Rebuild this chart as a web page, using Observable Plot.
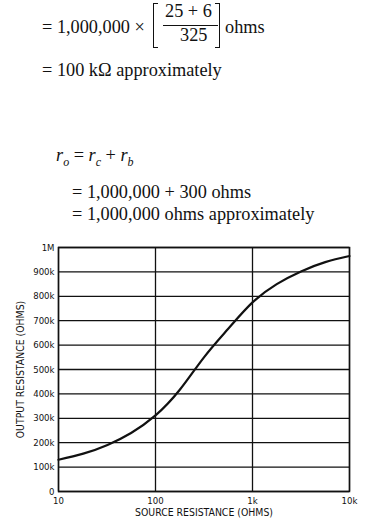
<!DOCTYPE html>
<html>
<head>
<meta charset="utf-8">
<script src="https://cdn.jsdelivr.net/npm/d3@7"></script>
<script src="https://cdn.jsdelivr.net/npm/@observablehq/plot@0.6"></script>
<style>
  html, body { margin: 0; padding: 0; background: #fff; }
  #page { position: relative; width: 372px; height: 529px; overflow: hidden; background: #fff;
          font-family: "Liberation Serif", "DejaVu Serif", serif; color: #111; }
  .eq { position: absolute; font-size: 18.3px; line-height: 18px; white-space: nowrap; }
  .it { font-style: italic; }
  .br { position: absolute; border: 1.3px solid #111; width: 4px; }
  #chart { position: absolute; left: 0; top: 230px; }
</style>
</head>
<body>
<div id="page">
  <div class="eq" style="left:42px; top:18px;">= 1,000,000 ×</div>
  <div class="br" style="left:153px; top:3px; height:43px; border-right:none;"></div>
  <div class="eq" style="left:165px; top:2px;">25 + 6</div>
  <div style="position:absolute; left:163px; top:25px; width:55px; border-top:1.2px solid #111;"></div>
  <div class="eq" style="left:180px; top:26px;">325</div>
  <div class="br" style="left:215px; top:3px; height:43px; border-left:none;"></div>
  <div class="eq" style="left:225px; top:18px;">ohms</div>
  <div class="eq" style="left:42px; top:61px;">= 100 kΩ approximately</div>

  <div class="eq" style="left:56px; top:146px;"><span class="it">r<sub style="font-size:12px">o</sub></span> = <span class="it">r<sub style="font-size:12px">c</sub></span> + <span class="it">r<sub style="font-size:12px">b</sub></span></div>
  <div class="eq" style="left:72px; top:183px;">= 1,000,000 + 300 ohms</div>
  <div class="eq" style="left:72px; top:205px;">= 1,000,000 ohms approximately</div>

  <div id="chart"></div>
</div>
<script>
// Source resistance (ohms) and output resistance (ohms)
const sourceOhms = [10, 18, 32, 56, 100, 178, 316, 562, 1000, 1778, 3162, 5623, 10000];
const outputOhms = [130000, 155000, 191000, 240000, 312000, 417000, 550000, 667000, 775000, 850000, 902000, 940000, 965000];

const xTicks = [10, 100, 1000, 10000];
const xTickLabels = ["10", "100", "1k", "10k"];
const yTicks = [0, 100000, 200000, 300000, 400000, 500000, 600000, 700000, 800000, 900000, 1000000];
const yTickLabels = ["0", "100k", "200k", "300k", "400k", "500k", "600k", "700k", "800k", "900k", "1M"];

const xLabel = "SOURCE RESISTANCE (OHMS)";
const yLabel = "OUTPUT RESISTANCE (OHMS)";

const data = sourceOhms.map((s, i) => ({s, r: outputOhms[i]}));

const chart = Plot.plot({
  width: 372,
  height: 299,
  marginTop: 17,
  marginBottom: 38,
  marginLeft: 58,
  marginRight: 23,
  style: {background: "#fff", color: "#111", fontFamily: "'DejaVu Sans Condensed', 'DejaVu Sans', sans-serif", fontSize: "9.5px", overflow: "visible"},
  x: {type: "log", domain: [10, 10000], ticks: xTicks, tickFormat: d => xTickLabels[xTicks.indexOf(d)], tickSize: 0, tickPadding: 6, label: null},
  y: {domain: [0, 1000000], ticks: yTicks, tickFormat: d => yTickLabels[yTicks.indexOf(d)], tickSize: 0, tickPadding: 4, label: null},
  marks: [
    Plot.ruleY(yTicks, {stroke: "#111", strokeWidth: 1.3}),
    Plot.ruleX(xTicks, {stroke: "#111", strokeWidth: 1.3}),
    Plot.frame({stroke: "#111", strokeWidth: 1.5}),
    Plot.line(data, {x: "s", y: "r", curve: "natural", stroke: "#111", strokeWidth: 2.2}),
    Plot.axisX({ticks: xTicks, tickFormat: d => xTickLabels[xTicks.indexOf(d)], tickSize: 0, tickPadding: 6, label: null}),
    Plot.axisY({ticks: yTicks, tickFormat: d => yTickLabels[yTicks.indexOf(d)], tickSize: 0, tickPadding: 4, label: null}),
    Plot.text([xLabel], {frameAnchor: "bottom", dy: 24, text: d => d, fontSize: 10.4, textAnchor: "middle"}),
    Plot.text([yLabel], {frameAnchor: "left", dx: -38, rotate: -90, text: d => d, fontSize: 10.4, textAnchor: "middle"})
  ]
});
document.getElementById("chart").appendChild(chart);
</script>
</body>
</html>
